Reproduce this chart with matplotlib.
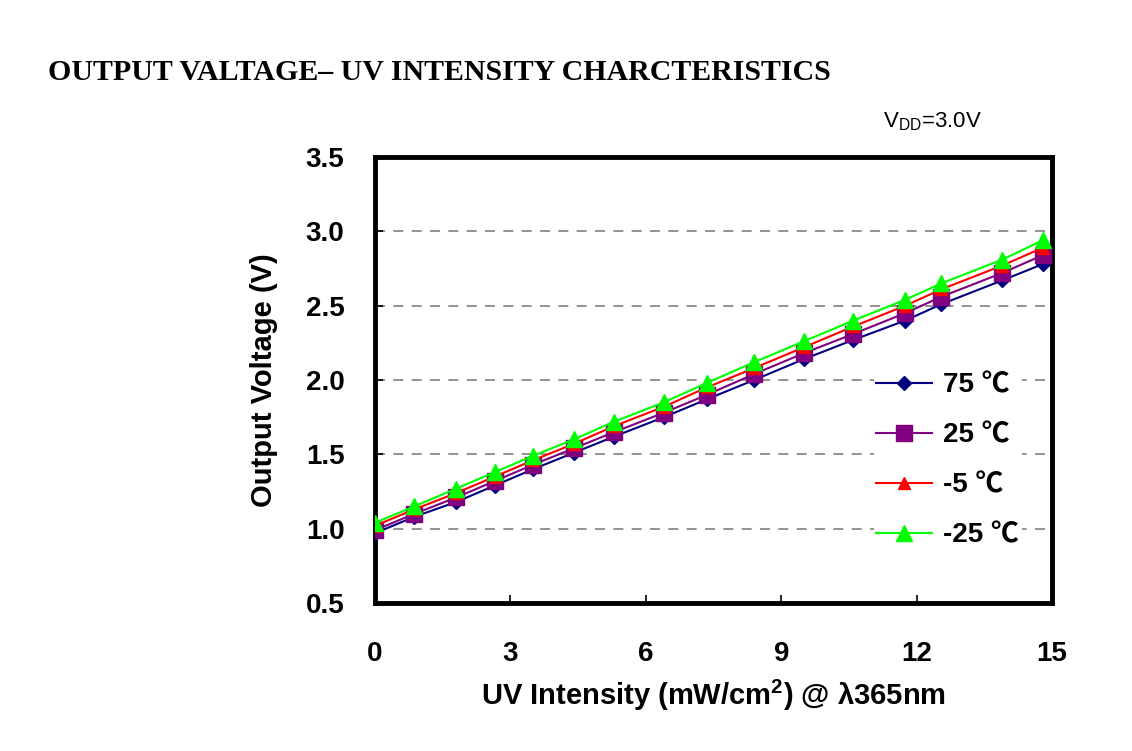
import matplotlib
matplotlib.use('Agg')
import matplotlib.pyplot as plt

plt.rcParams['font.family'] = ['Liberation Sans', 'Noto Sans CJK SC', 'DejaVu Sans']
plt.rcParams['mathtext.fontset'] = 'custom'
plt.rcParams['mathtext.rm'] = 'Liberation Sans'
plt.rcParams['mathtext.bf'] = 'Liberation Sans:bold'

# UV intensity (mW/cm2) sample points
uv = [0, 0.87, 1.8, 2.65, 3.5, 4.4, 5.3, 6.4, 7.35, 8.4, 9.5, 10.6, 11.75, 12.55, 13.9, 14.8]

# output voltage (V) per temperature
v_75 = [0.97, 1.08, 1.18, 1.29, 1.40, 1.51, 1.62, 1.75, 1.87, 2.00, 2.14, 2.27, 2.40, 2.51, 2.67, 2.78]
v_25 = [0.99, 1.10, 1.21, 1.32, 1.43, 1.54, 1.65, 1.78, 1.90, 2.04, 2.18, 2.31, 2.45, 2.56, 2.72, 2.84]
v_m5 = [1.02, 1.13, 1.24, 1.35, 1.46, 1.57, 1.69, 1.82, 1.95, 2.08, 2.22, 2.36, 2.50, 2.61, 2.77, 2.89]
v_m25 = [1.04, 1.15, 1.27, 1.38, 1.49, 1.60, 1.72, 1.85, 1.98, 2.12, 2.26, 2.40, 2.54, 2.65, 2.81, 2.94]

labels = ['75 \u2103', '25 \u2103', '-5 \u2103', '-25 \u2103']
xticks = [0, 3, 6, 9, 12, 15]
yticks = [0.5, 1.0, 1.5, 2.0, 2.5, 3.0, 3.5]

fig = plt.figure(figsize=(11.32, 7.51), dpi=100)
ax = fig.add_axes([0.3313, 0.197, 0.598, 0.594])

ax.plot(uv, v_75, color='#000080', marker='D', markersize=7, lw=1.5, label=labels[0], zorder=3)
ax.plot(uv, v_25, color='#800080', marker='s', markersize=11, lw=1.5, label=labels[1], zorder=4)
ax.plot(uv, v_m5, color='#FF0000', marker='^', markersize=9, lw=1.5, label=labels[2], zorder=5)
ax.plot(uv, v_m25, color='#00FF00', marker='^', markersize=11, lw=1.5, label=labels[3], zorder=6)

ax.set_xlim(0, 15)
ax.set_ylim(0.5, 3.5)
ax.set_xticks(xticks)
ax.set_xticklabels([str(t) for t in xticks])
ax.set_yticks(yticks)
ax.set_yticklabels(['%.1f' % t for t in yticks])
for y in [1.0, 1.5, 2.0, 2.5, 3.0]:
    ax.axhline(y, color='#808080', lw=1.2, ls=(0, (6, 5)), zorder=1)

for s in ax.spines.values():
    s.set_linewidth(3.5)
ax.tick_params(direction='in', length=6, width=1.2, labelsize=20)
ax.tick_params(axis='y', pad=22)
ax.tick_params(axis='x', pad=27)
for t in ax.get_xticklabels() + ax.get_yticklabels():
    t.set_fontweight('bold')

ax.set_xlabel(r'UV Intensity (mW/cm$^\mathbf{2}$) @ λ365nm', fontsize=21, fontweight='bold', labelpad=8)
ax.set_ylabel('Output Voltage (V)', fontsize=21, fontweight='bold', labelpad=20)

leg = ax.legend(loc='center left', bbox_to_anchor=(0.716, 0.319), frameon=True, fontsize=20,
                handlelength=2.0, handletextpad=0.4, labelspacing=0.86, borderpad=0.1)
leg.get_frame().set_edgecolor('none')
leg.get_frame().set_facecolor('white')
leg.get_frame().set_alpha(1)
for t in leg.get_texts():
    t.set_fontweight('bold')

fig.text(0.78, 0.83, r'V$_{\mathrm{DD}}$=3.0V', fontsize=16)
fig.text(0.042, 0.904, 'OUTPUT VALTAGE\u2013 UV INTENSITY CHARCTERISTICS',
         fontsize=21.5, fontweight='bold', family='Liberation Serif', va='center')

fig.savefig('out.png', dpi=100)
